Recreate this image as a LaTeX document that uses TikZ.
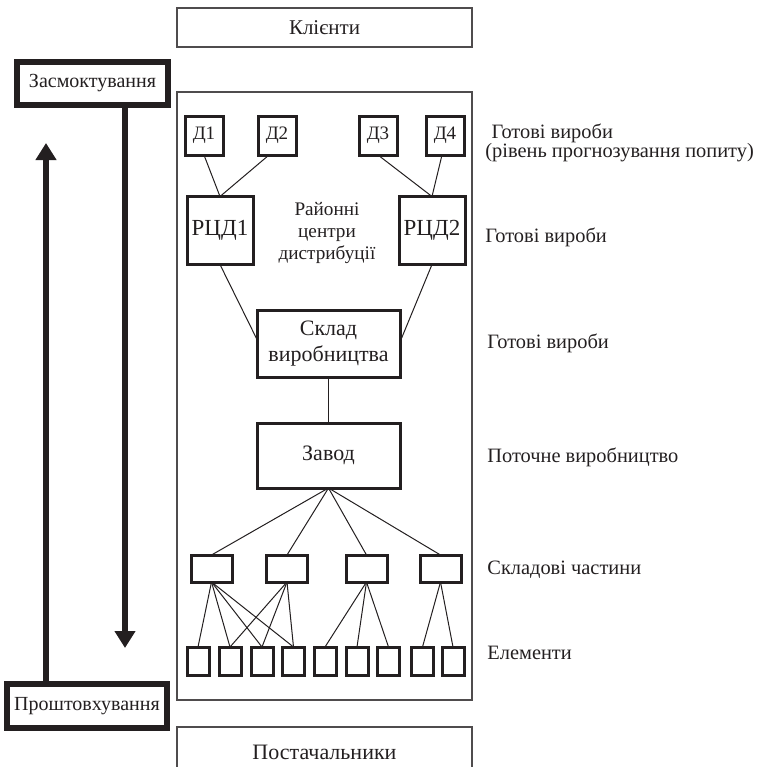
\documentclass[tikz,border=0pt]{standalone}
\usepackage{fontspec}
\setmainfont{Liberation Serif}
\usetikzlibrary{arrows.meta, positioning, calc}
\definecolor{ink}{RGB}{35, 31, 32}

\tikzset{
  frame/.style={draw=ink!80, line width=0.8pt, inner sep=0pt, outer sep=0pt, text=ink, font=\fontsize{10.5}{12}\selectfont},
  unit/.style={draw=ink, line width=1.5pt, inner sep=0pt, outer sep=0pt, text=ink},
  dbox/.style={unit, minimum width=19pt, minimum height=19.5pt, font=\fontsize{9.5}{11}\selectfont},
  rcdbox/.style={unit, minimum width=33pt, minimum height=34pt, font=\fontsize{11.5}{13}\selectfont},
  mainbox/.style={unit, minimum width=71.5pt, minimum height=33pt, align=center, font=\fontsize{11}{13.3}\selectfont},
  partbox/.style={unit, minimum width=20.5pt, minimum height=13.5pt},
  elembox/.style={unit, minimum width=11pt, minimum height=14pt},
  flowbox/.style={draw=ink, line width=3pt, inner sep=0pt, outer sep=0pt, text=ink, font=\fontsize{10}{12}\selectfont},
  link/.style={draw=ink, line width=0.5pt},
  flow/.style={draw=ink, line width=3pt, -{Triangle[width=10pt, length=8.5pt]}},
  tag/.style={anchor=west, align=left, inner sep=0pt, text=ink, font=\fontsize{10.2}{12}\selectfont}
}

\begin{document}
\begin{tikzpicture}[x=0.5pt, y=-0.5pt]
\useasboundingbox (0,0) rectangle (766,767);

% Clients, plant frame, suppliers
\node[frame, minimum width=147.5pt, minimum height=19.5pt] (clients) at (324.5, 27.5) {Клієнти};
\node[frame, minimum width=147.5pt, minimum height=304pt] (plant) at (324.5, 396) {};
\node[frame, minimum width=147.5pt, minimum height=25pt, font=\fontsize{11}{12}\selectfont] (suppliers) at (324.5, 752) {Постачальники};

% Level 1: Distributors
\node[dbox] (d1) at (204, 135.5) {Д1};
\node[dbox] (d2) at (277, 135.5) {Д2};
\node[dbox] (d3) at (378, 135.5) {Д3};
\node[dbox] (d4) at (445, 135.5) {Д4};

% Level 2: Regional centres
\node[rcdbox] (rcd1) at (220, 230.5) {РЦД1};
\node[rcdbox] (rcd2) at (432, 230.5) {РЦД2};
\node[align=center, text=ink, font=\fontsize{9.6}{10.8}\selectfont] (rcdlabel) at (327, 233) {Районні\\центри\\дистрибуції};

\draw[link] (d1.south) -- (rcd1.north);
\draw[link] ($(d2.south)+(-8,0)$) -- (rcd1.north);
\draw[link] (d3.south) -- (rcd2.north);
\draw[link] ($(d4.south)+(-3,0)$) -- (rcd2.north);

% Level 3: Warehouse and plant
\node[mainbox, minimum height=33.5pt] (store) at (328.5, 343.5) {Склад\\виробництва};
\node[mainbox, minimum height=32.5pt] (zavod) at (328.5, 455.5) {Завод};

\draw[link] (rcd1.south) -- ($(store.west)+(0,-4)$);
\draw[link] (rcd2.south) -- ($(store.east)+(0,-1.5)$);
\draw[link] (store.south) -- (zavod.north);
\draw[link] ($(zavod.west)+(0,7.5)$) -- ($(zavod.west)+(0,7.5)$ -| plant.west);
\draw[link] ($(zavod.east)+(0,7.5)$) -- ($(zavod.east)+(0,7.5)$ -| plant.east);

% Level 4: Components
\foreach \n/\x in {1/211.5, 2/287, 3/366.5, 4/440.5}
  \node[partbox] (c\n) at (\x, 568.5) {};
\foreach \n in {1,...,4}
  \draw[link] (zavod.south) -- (c\n.north);

% Level 5: Elements
\foreach \n/\x in {1/198, 2/230, 3/262, 4/293.5, 5/325, 6/357, 7/388.5, 8/422.5, 9/453}
  \node[elembox] (e\n) at (\x, 661) {};
\foreach \a/\b in {1/1, 1/2, 1/3, 1/4, 2/2, 2/3, 2/4, 3/5, 3/6, 3/7, 4/8, 4/9}
  \draw[link] (c\a.south) -- (e\b.north);

% Level captions
\node[tag, font=\fontsize{10.2}{9.6}\selectfont] (lvl1) at (485, 142.5) {\hspace*{0.3em}Готові вироби\\(рівень прогнозування попиту)};
\node[tag] (lvl2) at (485, 237) {Готові вироби};
\node[tag] (lvl3) at (487, 343) {Готові вироби};
\node[tag] (lvl4) at (487, 457) {Поточне виробництво};
\node[tag] (lvl5) at (487, 570) {Складові частини};
\node[tag] (lvl6) at (487, 653) {Елементи};

% Pull and push flows
\node[flowbox, minimum width=75.5pt, minimum height=21.5pt] (pull) at (92.5, 83.5) {Засмоктування};
\node[flowbox, minimum width=80pt, minimum height=22pt] (push) at (87, 706) {Проштовхування};
\coordinate (pulltip) at (125, 648);
\coordinate (pushtip) at (46, 143);
\draw[flow] (pulltip |- pull.south) -- (pulltip);
\draw[flow] (pushtip |- push.north) -- (pushtip);
\end{tikzpicture}
\end{document}
